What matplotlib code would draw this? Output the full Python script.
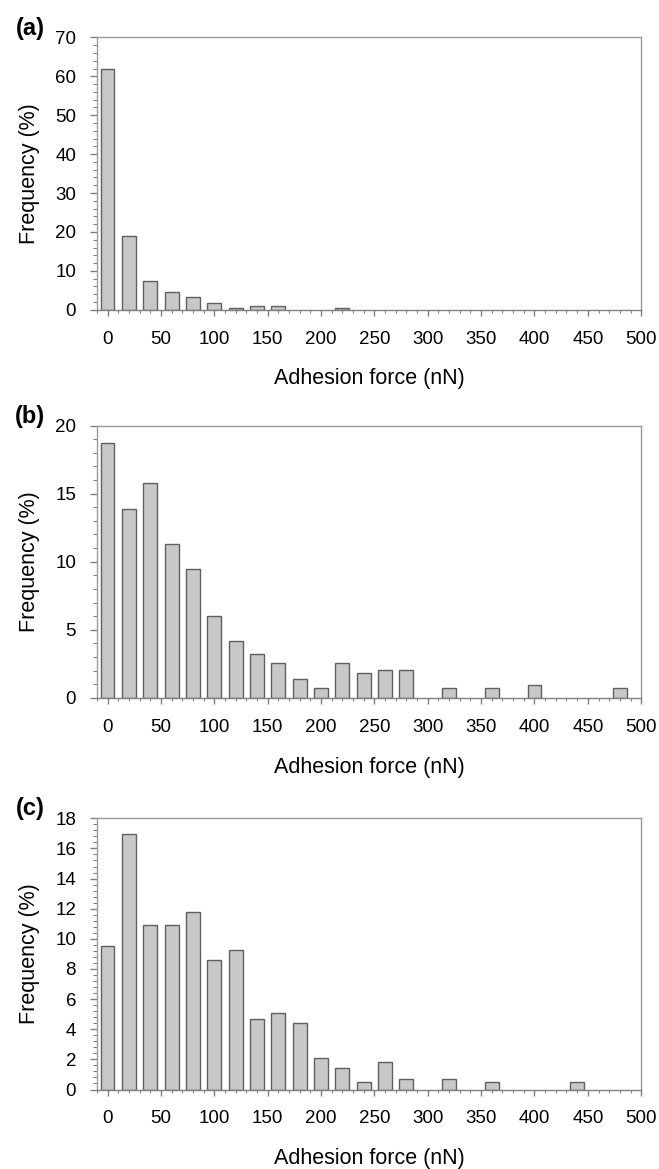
import numpy as np
import matplotlib
matplotlib.use('Agg')
import matplotlib.pyplot as plt
from matplotlib.ticker import MultipleLocator

plt.rcParams['font.family'] = ['Liberation Sans', 'DejaVu Sans']

# Bin centres (nN), 20 nN bins
force = np.arange(0, 500, 20)

# Frequency (%) per bin
freq_a = [62.0, 19.0, 7.4, 4.6, 3.2, 1.8, 0.5, 1.1, 0.85, 0, 0, 0.35,
          0, 0, 0, 0, 0, 0, 0, 0, 0, 0, 0, 0, 0]
freq_b = [18.75, 13.9, 15.75, 11.3, 9.5, 6.0, 4.15, 3.25, 2.55, 1.37, 0.69, 2.55,
          1.86, 2.06, 2.06, 0, 0.69, 0, 0.69, 0, 0.95, 0, 0, 0, 0.69]
freq_c = [9.55, 16.95, 10.9, 10.9, 11.8, 8.6, 9.28, 4.65, 5.1, 4.42, 2.08, 1.4,
          0.48, 1.85, 0.68, 0, 0.68, 0, 0.48, 0, 0, 0, 0.48, 0, 0]

panels = ['(a)', '(b)', '(c)']
y_max = [70, 20, 18]
y_major = [10, 5, 2]
y_minor = [2, 1, 0.4]

# axes boxes in figure fractions (left, bottom, width, height)
boxes = [(0.147, 0.735, 0.826, 0.233),
         (0.147, 0.403, 0.826, 0.233),
         (0.147, 0.068, 0.826, 0.232)]

AXIS_GREY = '#9a9a9a'
TICK_FS = 13.5
LABEL_FS = 15.5

fig = plt.figure(figsize=(6.59, 11.69), dpi=100)

for box, data, name, ym, ymaj, ymin in zip(boxes, [freq_a, freq_b, freq_c],
                                           panels, y_max, y_major, y_minor):
    ax = fig.add_axes(box)
    data = np.asarray(data)
    keep = data > 0   # empty bins leave no mark
    ax.bar(force[keep], data[keep], width=13, color='#c8c8c8',
           edgecolor='#606060', linewidth=1.0, zorder=2)
    ax.set_xlim(-10, 500)
    ax.set_ylim(0, ym)
    ax.xaxis.set_major_locator(MultipleLocator(50))
    ax.xaxis.set_minor_locator(MultipleLocator(10))
    ax.yaxis.set_major_locator(MultipleLocator(ymaj))
    ax.yaxis.set_minor_locator(MultipleLocator(ymin))
    for s in ax.spines.values():
        s.set_color(AXIS_GREY)
        s.set_linewidth(1.0)
    ax.spines['bottom'].set_color('#808080')
    ax.tick_params(axis='x', which='major', direction='out', length=4,
                   width=1, color='#808080', pad=11, labelsize=TICK_FS)
    ax.tick_params(axis='x', which='minor', direction='out', length=2.5,
                   width=0.8, color='#808080')
    ax.tick_params(axis='y', which='major', direction='out', length=5,
                   width=1, color='#808080', pad=10, labelsize=TICK_FS)
    ax.tick_params(axis='y', which='minor', direction='out', length=3,
                   width=0.8, color='#808080')
    ax.tick_params(top=False, right=False)
    ax.set_xlabel('Adhesion force (nN)', fontsize=LABEL_FS, labelpad=15)
    ax.set_ylabel('Frequency (%)', fontsize=LABEL_FS, labelpad=11)
    fig.text(0.046, box[1] + box[3] + 0.008, name, fontsize=17,
             fontweight='bold', ha='center', va='center')

fig.savefig('out.png', dpi=100)
